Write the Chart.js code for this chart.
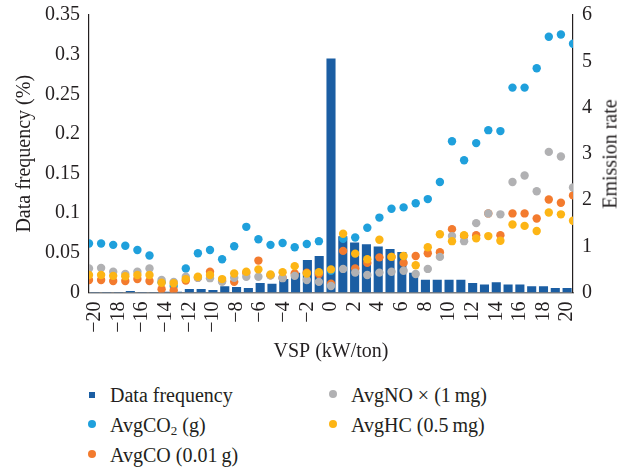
<!DOCTYPE html>
<html>
<head>
<meta charset="utf-8">
<script src="https://cdn.jsdelivr.net/npm/chart.js@4/dist/chart.umd.min.js"></script>
<style>
    html, body { margin: 0; padding: 0; background: #fff; }
    #wrap { position: relative; width: 618px; height: 470px; font-family: "Liberation Serif", serif; color: #231f20; }
    #cv { position: absolute; left: 0; top: 0; }
    .rtitle { position: absolute; left: 610px; top: 154px; font-size: 20px; white-space: nowrap;
              transform: translate(-50%, -50%) rotate(-90deg); }
    .lg { position: absolute; font-size: 20px; line-height: 20px; white-space: nowrap; }
    .lg i { position: absolute; display: block; }
    .lg sub { font-size: 13px; vertical-align: -3px; line-height: 0; }
</style>
</head>
<body>
<div id="wrap">
    <canvas id="cv" width="618" height="370"></canvas>
    <div class="rtitle">Emission rate</div>

    <div class="lg" style="left:110px; top:385px;"><i style="left:-21px; top:7px; width:6px; height:6px; background:#1b5ea3;"></i>Data frequency</div>
    <div class="lg" style="left:110px; top:415px;"><i style="left:-22px; top:5px; width:8px; height:8px; border-radius:50%; background:#1fa0dc;"></i>AvgCO<sub>2</sub> (g)</div>
    <div class="lg" style="left:110px; top:445px;"><i style="left:-22px; top:5px; width:8px; height:8px; border-radius:50%; background:#f37b2e;"></i>AvgCO (0.01&thinsp;g)</div>
    <div class="lg" style="left:351px; top:385px;"><i style="left:-22px; top:5px; width:8px; height:8px; border-radius:50%; background:#b1b1b3;"></i>AvgNO × (1&thinsp;mg)</div>
    <div class="lg" style="left:351px; top:415px;"><i style="left:-22px; top:5px; width:8px; height:8px; border-radius:50%; background:#fdb515;"></i>AvgHC (0.5&thinsp;mg)</div>
</div>

<script>
// VSP bins (kW/ton)
const vsp = [-20, -19, -18, -17, -16, -15, -14, -13, -12, -11, -10, -9, -8, -7, -6, -5, -4, -3, -2, -1,
    0, 1, 2, 3, 4, 5, 6, 7, 8, 9, 10, 11, 12, 13, 14, 15, 16, 17, 18, 19, 20];

// Data frequency (left axis)
const freq = [0.0005, 0.0005, 0.0005, 0.002, 0.0005, 0.0005, 0.001, 0.001, 0.0045, 0.0045,
    0.003, 0.008, 0.007, 0.0057, 0.012, 0.011, 0.017, 0.025, 0.041, 0.046,
    0.295, 0.071, 0.063, 0.061, 0.058, 0.055, 0.051, 0.025, 0.016, 0.016,
    0.016, 0.016, 0.012, 0.010, 0.013, 0.010, 0.010, 0.008, 0.008, 0.0057, 0.0057];

// Emission rates (right axis)
const co2 = [1.06, 1.06, 1.03, 1.01, 0.92, 0.80, 0.22, 0.14, 0.52, 0.85,
    0.92, 0.72, 1.00, 1.42, 1.15, 1.03, 1.07, 0.98, 1.05, 1.11,
    0.47, 1.16, 1.19, 1.40, 1.62, 1.81, 1.84, 1.93, 2.02, 2.39,
    3.27, 2.86, 3.23, 3.51, 3.49, 4.43, 4.43, 4.85, 5.53, 5.58, 5.38];
const co = [0.27, 0.27, 0.25, 0.25, 0.29, 0.25, 0.07, 0.05, 0.26, 0.32,
    0.45, 0.25, 0.23, 0.42, 0.69, 0.37, 0.32, 0.41, 0.43, 0.40,
    0.19, 0.90, 0.52, 0.64, 0.76, 0.77, 0.64, 0.79, 0.85, 0.87,
    1.37, 1.22, 1.24, 1.71, 1.24, 1.71, 1.71, 1.60, 2.01, 1.94, 2.10];
const no = [0.52, 0.53, 0.45, 0.40, 0.45, 0.52, 0.27, 0.23, 0.34, 0.32,
    0.31, 0.23, 0.32, 0.34, 0.34, 0.37, 0.31, 0.36, 0.27, 0.23,
    0.14, 0.51, 0.43, 0.38, 0.43, 0.45, 0.47, 0.40, 0.51, 0.77,
    1.22, 1.11, 1.50, 1.71, 1.69, 2.39, 2.53, 2.19, 3.04, 2.94, 2.27];
const hc = [0.38, 0.38, 0.36, 0.35, 0.38, 0.38, 0.21, 0.20, 0.29, 0.34,
    0.38, 0.29, 0.41, 0.45, 0.50, 0.39, 0.44, 0.57, 0.41, 0.44,
    0.50, 1.27, 0.84, 0.72, 1.14, 0.77, 0.79, 0.59, 0.98, 1.26,
    1.11, 1.24, 1.17, 1.22, 1.12, 1.47, 1.44, 1.33, 1.73, 1.69, 1.55];

const FONT = 'Liberation Serif';
const INK = '#231f20';

const pts = arr => vsp.map((v, i) => ({ x: v, y: arr[i] }));
const label = v => (v < 0 ? '\u2212' + (-v) : String(v));

function dots(name, arr, color, order) {
    return {
        type: 'scatter', label: name, data: pts(arr), order,
        xAxisID: 'x2', yAxisID: 'y2',
        backgroundColor: color, borderWidth: 0,
        pointRadius: 4.2, pointHoverRadius: 4.2
    };
}

// keep the plot box fixed: no extra room for half tick labels
function fixY(width) {
    return s => { s.width = width; s.paddingTop = 0; s.paddingBottom = 0; };
}

new Chart(document.getElementById('cv'), {
    type: 'bar',
    data: {
        labels: vsp.map(label),
        datasets: [
            {
                label: 'Data frequency', data: freq, order: 4,
                xAxisID: 'x', yAxisID: 'y', grouped: false,
                backgroundColor: '#1b5ea3',
                categoryPercentage: 1, barPercentage: 0.77
            },
            dots('AvgCO2 (g)', co2, '#1fa0dc', 3),
            dots('AvgCO (0.01 g)', co, '#f37b2e', 2),
            dots('AvgNO × (1 mg)', no, '#b1b1b3', 1),
            dots('AvgHC (0.5 mg)', hc, '#fdb515', 0)
        ]
    },
    options: {
        responsive: false,
        animation: false,
        layout: { padding: { top: 15, right: 0, bottom: 0, left: 0 } },
        plugins: { legend: { display: false }, tooltip: { enabled: false } },
        scales: {
            x: {
                type: 'category', offset: true,
                grid: { display: false, drawTicks: false },
                border: { display: true, color: '#7f7f7f', width: 1.5 },
                ticks: {
                    autoSkip: false, minRotation: 90, maxRotation: 90, padding: 9,
                    color: INK, font: { family: FONT, size: 20 },
                    callback: (v, i) => (i % 2 === 0 ? label(vsp[i]) : '')
                },
                title: { display: true, text: 'VSP (kW/ton)', color: INK, font: { family: FONT, size: 20 }, padding: { top: 0, bottom: 6 } },
                afterFit: s => { s.height = 77.5; s.paddingLeft = 0; s.paddingRight = 0; }
            },
            x2: { type: 'linear', min: -20, max: 20, display: false, offset: false },
            y: {
                position: 'left', min: 0, max: 0.35,
                grid: { display: false, drawTicks: false },
                border: { display: true, color: '#231f20', width: 1.2 },
                ticks: {
                    stepSize: 0.05, padding: 9, color: INK, font: { family: FONT, size: 20 },
                    callback: v => String(+v.toFixed(2))
                },
                title: { display: true, text: 'Data frequency (%)', color: INK, font: { family: FONT, size: 20 }, padding: { top: 13, bottom: 0 } },
                afterFit: fixY(89)
            },
            y2: {
                position: 'right', min: 0, max: 6,
                grid: { display: false, drawTicks: false },
                border: { display: true, color: '#231f20', width: 1.2 },
                ticks: { stepSize: 1, padding: 9, color: INK, font: { family: FONT, size: 20 } },
                afterFit: fixY(45)
            }
        }
    }
});
</script>
</body>
</html>
